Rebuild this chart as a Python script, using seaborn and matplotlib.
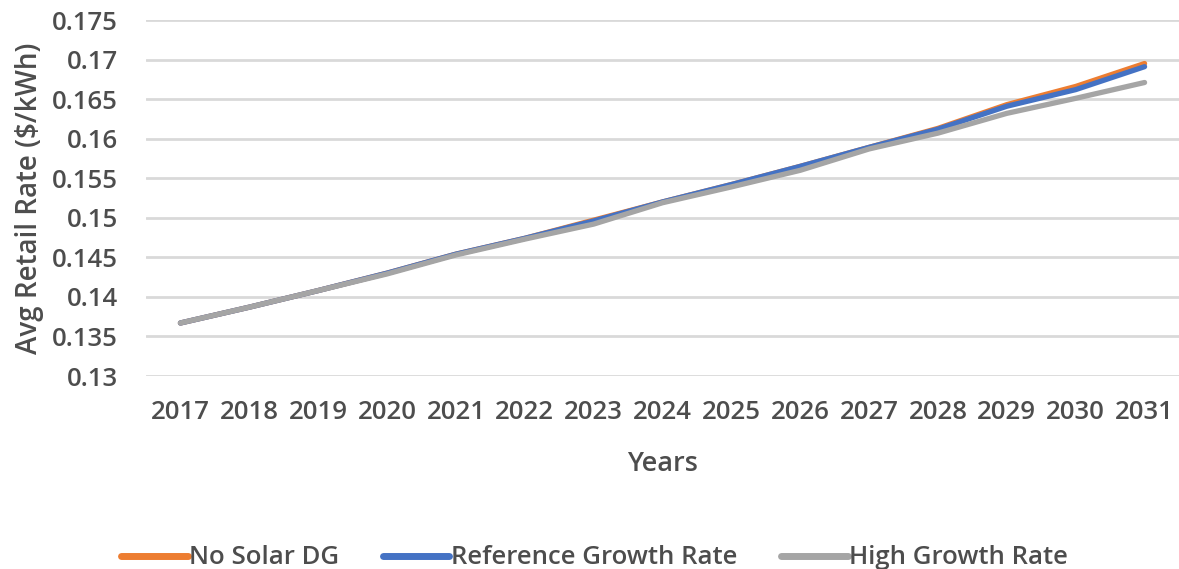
import numpy as np
import pandas as pd
import matplotlib
matplotlib.use("Agg")
import matplotlib.pyplot as plt
import seaborn as sns
from matplotlib.ticker import FuncFormatter

years = list(range(2017, 2032))
no_solar = [0.1367, 0.1387, 0.1408, 0.1430, 0.1454, 0.1474, 0.1497, 0.1520,
            0.1542, 0.1565, 0.1589, 0.1613, 0.1643, 0.1666, 0.1695]
reference = [0.1367, 0.1387, 0.1408, 0.1430, 0.1454, 0.1474, 0.1496, 0.1520,
             0.1542, 0.1565, 0.1589, 0.1612, 0.1641, 0.1662, 0.1691]
high = [0.1367, 0.1387, 0.1408, 0.1429, 0.1453, 0.1473, 0.1492, 0.1519,
        0.1539, 0.1560, 0.1587, 0.1607, 0.1632, 0.1651, 0.1671]
names = ["No Solar DG", "Reference Growth Rate", "High Growth Rate"]
colors = ["#ED7D31", "#4472C4", "#A5A5A5"]

df = pd.DataFrame({
    "Years": years * 3,
    "rate": no_solar + reference + high,
    "series": [n for n in names for _ in years],
})

sns.set_style("white")
plt.rcParams["font.family"] = ["Open Sans", "DejaVu Sans"]
plt.rcParams["font.weight"] = "semibold"
txt = "#4D4D4D"
fs = 18.5

fig = plt.figure(figsize=(11.79, 5.69), dpi=100)
ax = fig.add_axes([146 / 1179, 1 - 376 / 569, 1 - 146 / 1179, (376 - 20) / 569])

sns.lineplot(data=df, x="Years", y="rate", hue="series", hue_order=names,
             palette=colors, linewidth=3.8, ax=ax, legend=False,
             solid_capstyle="round")

ax.set_xlim(2016.5, 2031.5)
ax.set_ylim(0.13, 0.175)
ax.set_yticks(np.arange(0.13, 0.1751, 0.005))
ax.yaxis.set_major_formatter(FuncFormatter(lambda v, p: f"{v:g}"))
ax.set_xticks(years)
ax.grid(axis="y", color="#D9D9D9", linewidth=2)
ax.set_axisbelow(True)
for s in ax.spines.values():
    s.set_visible(False)
ax.tick_params(axis="both", length=0, labelsize=fs, labelcolor=txt)
ax.tick_params(axis="y", pad=20)
ax.tick_params(axis="x", pad=17)
ax.set_xlabel("Years", fontsize=fs + 1, color=txt, labelpad=18, fontweight="semibold")
ax.set_ylabel("Avg Retail Rate ($/kWh)", fontsize=fs + 1.5, color=txt, labelpad=6,
              fontweight="semibold")

handles = [plt.Line2D([], [], color=c, linewidth=5, solid_capstyle="round") for c in colors]
fig.legend(handles, names, loc="center", bbox_to_anchor=(0.504, 1 - 558 / 569),
           ncol=3, frameon=False, handlelength=2.6,
           handletextpad=0.05, columnspacing=1.7, labelcolor=txt,
           prop={"size": fs, "weight": "semibold"})

fig.savefig("out.png", dpi=100)
